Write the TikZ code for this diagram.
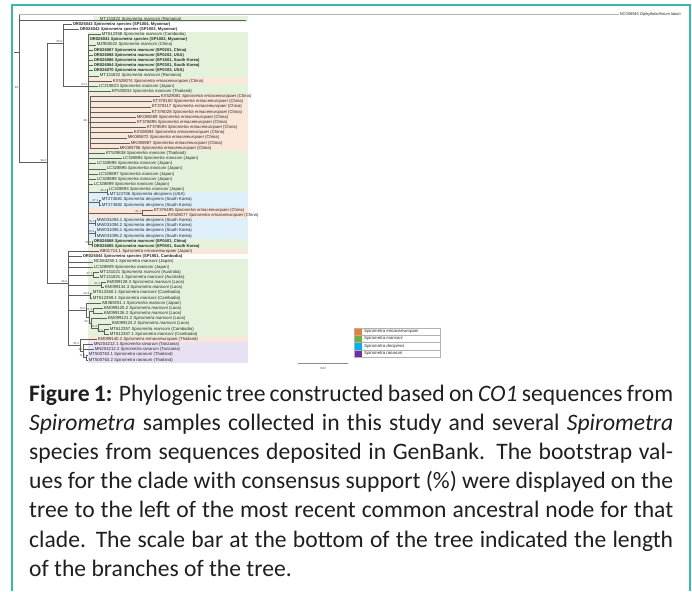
\documentclass[tikz,border=0pt]{standalone}
\usepackage{fontspec}
\setmainfont{Carlito}
\newfontfamily\treefont{Liberation Sans}
\definecolor{framec}{RGB}{60,185,165}
\definecolor{gband}{RGB}{228,242,220}
\definecolor{pband}{RGB}{251,230,218}
\definecolor{bband}{RGB}{222,239,250}
\definecolor{vband}{RGB}{232,225,243}
\definecolor{lorange}{RGB}{237,125,49}
\definecolor{lgreen}{RGB}{112,173,71}
\definecolor{lblue}{RGB}{0,176,240}
\definecolor{lpurple}{RGB}{112,48,160}
\definecolor{branchc}{RGB}{95,95,95}
\tikzset{
 leaf/.style={anchor=west, inner xsep=0.6pt, inner ysep=0pt, font=\treefont\fontsize{4.3}{5}\selectfont, text=black!85},
 leafb/.style={leaf, font=\treefont\bfseries\fontsize{4.1}{5}\selectfont},
 bs/.style={anchor=south east, inner sep=0.3pt, xshift=-0.4pt, font=\treefont\fontsize{2.8}{3}\selectfont, text=black!75},
 br/.style={draw=branchc, line width=0.45pt},
 captext/.style={anchor=base west, inner sep=0pt, font=\fontsize{23.6}{28}\selectfont, text=black!88},
 lgt/.style={anchor=west, inner sep=0pt, font=\treefont\itshape\fontsize{4.3}{5}\selectfont, text=black!85},
}
\newcommand\lf[6]{\node[leaf] (l#1) at (#3-1,#1) {#4 \textit{#5} (#6)};\draw[br] (#2,#1) -- (l#1.west);}
\newcommand\lfb[6]{\node[leafb] (l#1) at (#3-1,#1) {#4 \textit{#5} (#6)};\draw[br] (#2,#1) -- (l#1.west);}
\begin{document}
\begin{tikzpicture}[x=1pt,y=-1pt]
\useasboundingbox (0,0) rectangle (692,591);
\fill[white] (0,0) rectangle (692,591);
% frame
\draw[framec, line width=1.3pt] (12,591) -- (12,5) -- (690,5) -- (690,591);
% ---------- tree (rows as y) ----------
\begin{scope}[y=-5.167pt, yshift=-13.833pt]
 % bands
 \fill[gband] (93,0.5) rectangle (248,1.5);
 \fill[gband] (88,3.5) rectangle (248,12.5);
 \fill[pband] (88,12.5) rectangle (248,13.5);
 \fill[gband] (88,13.5) rectangle (248,15.5);
 \fill[pband] (88,15.5) rectangle (248,26.5);
 \fill[gband] (88,26.5) rectangle (248,34.5);
 \fill[bband] (88,34.5) rectangle (248,37.5);
 \fill[pband] (88,37.5) rectangle (248,39.5);
 \fill[bband] (88,39.5) rectangle (248,43.5);
 \fill[gband] (88,43.5) rectangle (248,45.5);
 \fill[pband] (88,45.5) rectangle (248,46.5);
 \fill[gband] (88,47.5) rectangle (248,62.5);
 \fill[pband] (88,62.5) rectangle (248,63.5);
 \fill[vband] (88,63.5) rectangle (248,67.5);
 % clade A
 \draw[br] (63,2) -- (63,14);
 \coordinate (n1) at (88,14);
 \draw[br] (63,14) -- (n1);
 \node[bs] (b2) at (n1) {54.3};
 \draw[br] (88,4) -- (88,44.5);
 \node[leaf] (l1) at (99,1) {MT131822 \textit{Spirometra mansoni} (Romania)};
 \lfb{2}{63}{73}{OR026043}{Spirometra species}{SP1004, Myanmar}
 \lfb{3}{63}{80}{OR026042}{Spirometra species}{SP1003, Myanmar}
 \lf{4}{88}{102}{MT612358}{Spirometra mansoni}{Cambodia}
 \lfb{5}{88}{90}{OR026041}{Spirometra species}{SP1002, Myanmar}
 \lf{6}{88}{97}{MZ955022}{Spirometra mansoni}{China}
 \lfb{7}{88}{94}{OR026067}{Spirometra mansoni}{SP0201, China}
 \lfb{8}{88}{94}{OR026068}{Spirometra mansoni}{SP0202, USA}
 \lfb{9}{88}{94}{OR026066}{Spirometra mansoni}{SP1801, South Korea}
 \lfb{10}{88}{94}{OR026064}{Spirometra mansoni}{SP0301, South Korea}
 \lfb{11}{88}{94}{OR026070}{Spirometra mansoni}{SP0303, USA}
 \lf{12}{88}{100}{MT131822}{Spirometra mansoni}{Romania}
 \lf{13}{88}{113}{KX528074}{Spirometra erinaceieuropaei}{China}
 \lf{14}{88}{99}{LC219823}{Spirometra mansoni}{Japan}
 \lf{15}{88}{112}{KF530834}{Spirometra mansoni}{Thailand}
 \coordinate (n98) at (90,21);
 \draw[br] (88,21) -- (n98);
 \draw[br] (90,16) -- (90,26);
 \node[bs] (b3) at (n98) {98.7};
 \lf{16}{90}{161}{KX528081}{Spirometra erinaceieuropaei}{China}
 \lf{17}{90}{153}{KT378150}{Spirometra erinaceieuropaei}{China}
 \lf{18}{90}{152}{KT378117}{Spirometra erinaceieuropaei}{China}
 \lf{19}{90}{152}{KT376028}{Spirometra erinaceieuropaei}{China}
 \lf{20}{90}{137}{MK085559}{Spirometra erinaceieuropaei}{China}
 \lf{21}{90}{137}{KT376895}{Spirometra erinaceieuropaei}{China}
 \lf{22}{90}{147}{KT378593}{Spirometra erinaceieuropaei}{China}
 \lf{23}{90}{134}{KX528084}{Spirometra erinaceieuropaei}{China}
 \lf{24}{90}{128}{MK085872}{Spirometra erinaceieuropaei}{China}
 \lf{25}{90}{131}{MK085967}{Spirometra erinaceieuropaei}{China}
 \lf{26}{90}{120}{MK085706}{Spirometra erinaceieuropaei}{China}
 \lf{27}{88}{106}{KT529838}{Spirometra mansoni}{Thailand}
 \lf{28}{88}{123}{LC328894}{Spirometra mansoni}{Japan}
 \lf{29}{88}{97}{LC328896}{Spirometra mansoni}{Japan}
 \lf{30}{88}{107}{LC328895}{Spirometra mansoni}{Japan}
 \lf{31}{88}{99}{LC328897}{Spirometra mansoni}{Japan}
 \lf{32}{88}{97}{LC328898}{Spirometra mansoni}{Japan}
 \lf{33}{88}{94}{LC328899}{Spirometra mansoni}{Japan}
 \coordinate (n34) at (107,34.5); \draw[br] (88,34.5) -- (n34); \draw[br] (107,34) -- (107,35);
 \node[bs] (b4) at (n34) {86.4};
 \lf{34}{107}{109}{LC328893}{Spirometra mansoni}{Japan}
 \lf{35}{107}{110}{MT122706}{Spirometra decipiens}{USA}
 \coordinate (n36) at (99,36.5); \draw[br] (88,36.5) -- (n36); \draw[br] (99,36) -- (99,37);
 \node[bs] (b5) at (n36) {87.1};
 \lf{36}{99}{102}{MT274581}{Spirometra decipiens}{South Korea}
 \lf{37}{99}{102}{MT274582}{Spirometra decipiens}{South Korea}
 \coordinate (n38) at (142,38.5); \draw[br] (88,38.5) -- (n38); \draw[br] (142,38) -- (142,39);
 \node[bs] (b6) at (n38) {81.7};
 \lf{38}{142}{154}{KT376495}{Spirometra erinaceieuropaei}{China}
 \lf{39}{142}{168}{KX528077}{Spirometra erinaceieuropaei}{China}
 \coordinate (n40) at (95,40.5); \draw[br] (88,40.5) -- (n40); \draw[br] (95,40) -- (95,41);
 \node[bs] (b7) at (n40) {76.1};
 \lf{40}{95}{97}{MW031094.1}{Spirometra decipiens}{South Korea}
 \lf{41}{95}{97}{MW031094.2}{Spirometra decipiens}{South Korea}
 \coordinate (n42) at (95,42.5); \draw[br] (88,42.5) -- (n42); \draw[br] (95,42) -- (95,43);
 \node[bs] (b8) at (n42) {73.3};
 \lf{42}{95}{97}{MW031095.1}{Spirometra decipiens}{South Korea}
 \lf{43}{95}{97}{MW031095.2}{Spirometra decipiens}{South Korea}
 \coordinate (n44) at (92,44.5); \draw[br] (88,44.5) -- (n44); \draw[br] (92,44) -- (92,45);
 \node[bs] (b9) at (n44) {61.5};
 \lfb{44}{92}{94}{OR026068}{Spirometra mansoni}{SP0401, China}
 \lfb{45}{92}{94}{OR026065}{Spirometra mansoni}{SP0501, South Korea}
 % clade B
 \draw[br] (68,46) -- (68,64.125);
 \lf{46}{68}{100}{AB01724.1}{Spirometra erinaceieuropaei}{Japan}
 \lfb{47}{68}{83}{OR026044}{Spirometra species}{SP1901, Cambodia}
 \lf{48}{68}{94}{NC063250.1}{Spirometra mansoni}{Japan}
 \lf{49}{68}{94}{LC328909}{Spirometra mansoni}{Japan}
 \coordinate (n50) at (93,50.5); \draw[br] (68,50.5) -- (n50); \draw[br] (93,50) -- (93,51);
 \node[bs] (b11) at (n50) {97.7};
 \lf{50}{93}{100}{MT131021}{Spirometra mansoni}{Australia}
 \lf{51}{93}{100}{MT131821.1}{Spirometra mansoni}{Australia}
 \coordinate (n52) at (101,52.5); \draw[br] (68,52.5) -- (n52); \draw[br] (101,52) -- (101,53);
 \node[bs] (b12) at (n52) {91.2};
 \lf{52}{101}{107}{KM099128.3}{Spirometra mansoni}{Laos}
 \lf{53}{101}{105}{KM099134.3}{Spirometra mansoni}{Laos}
 \coordinate (n54) at (90,54.5); \draw[br] (68,54.5) -- (n54); \draw[br] (90,54) -- (90,55);
 \node[bs] (b13) at (n54) {90.4};
 \lf{54}{90}{93}{MT612360.1}{Spirometra mansoni}{Cambodia}
 \lf{55}{90}{93}{MT612359.1}{Spirometra mansoni}{Cambodia}
 \coordinate (na) at (86,57.34); \draw[br] (68,57.34) -- (na); \draw[br] (86,56) -- (86,58.69);
 \node[bs] (b14) at (na) {79.0};
 \lf{56}{86}{102}{AB369251.1}{Spirometra mansoni}{Japan}
 \coordinate (nb) at (89,58.69); \draw[br] (86,58.69) -- (nb); \draw[br] (89,57.5) -- (89,59.875);
 \coordinate (nc) at (93,57.5); \draw[br] (89,57.5) -- (nc); \draw[br] (93,57) -- (93,58);
 \node[bs] (b15) at (nc) {51.1};
 \lf{57}{93}{104}{KM099125.2}{Spirometra mansoni}{Laos}
 \lf{58}{93}{104}{KM099126.2}{Spirometra mansoni}{Laos}
 \coordinate (nd) at (91,59.875); \draw[br] (89,59.875) -- (nd); \draw[br] (91,59) -- (91,60.75);
 \node[bs] (b16) at (nd) {60.1};
 \lf{59}{91}{108}{KM099121.2}{Spirometra mansoni}{Laos}
 \coordinate (nf) at (98,60.75); \draw[br] (91,60.75) -- (nf); \draw[br] (98,60) -- (98,61.5);
 \node[bs] (b17) at (nf) {81.6};
 \lf{60}{98}{112}{KM099124.2}{Spirometra mansoni}{Laos}
 \coordinate (ne) at (104,61.5); \draw[br] (98,61.5) -- (ne); \draw[br] (104,61) -- (104,62);
 \node[bs] (b18) at (ne) {97.1};
 \lf{61}{104}{110}{MT612357}{Spirometra mansoni}{Cambodia}
 \lf{62}{104}{110}{MT612357.1}{Spirometra mansoni}{Cambodia}
 \coordinate (np) at (80,64.125); \draw[br] (68,64.125) -- (np); \draw[br] (80,63) -- (80,65.25);
 \node[bs] (b19) at (np) {85.1};
 \lf{63}{80}{98}{KM099140.2}{Spirometra erinaceieuropaei}{Thailand}
 \coordinate (nq) at (83,65.25); \draw[br] (80,65.25) -- (nq); \draw[br] (83,64) -- (83,66.5);
 \node[bs] (b20) at (nq) {95};
 \lf{64}{83}{94}{MN204212.1}{Spirometra ranarum}{Tanzania}
 \lf{65}{83}{95}{MN204212.2}{Spirometra ranarum}{Tanzania}
 \coordinate (nm) at (86,66.5); \draw[br] (83,66.5) -- (nm); \draw[br] (86,66) -- (86,67);
 \node[bs] (b21) at (nm) {71.1};
 \lf{66}{86}{89}{MT500763.1}{Spirometra ranarum}{Thailand}
 \lf{67}{86}{89}{MT500763.2}{Spirometra ranarum}{Thailand}
\end{scope}
% ---------- root and backbone (pixel coords) ----------
\coordinate (rstub) at (14,52);
\coordinate (rtop) at (19,14);
\coordinate (rbot) at (19,162);
\draw[br] (rstub) -- (19,52);
\draw[br] (rtop) -- (rbot);
\node[leaf, font=\treefont\fontsize{4}{5}\selectfont] (og) at (619,14) {NC008945 \textit{Diphyllobothrium latum}};
\draw[draw=black!30, line width=0.8pt] (rtop) -- (og.west);
\coordinate (r2a) at (19,20);
\coordinate (r2b) at (246,20);
\draw[br] (r2a) -- (r2b);
\node[bs, anchor=east] (b0) at (19,88) {98};
\coordinate (ing) at (47,162);
\draw[br] (rbot) -- (ing);
\node[bs] (b1) at (ing) {99.4};
\coordinate (iA) at (47,43);
\coordinate (iB) at (47,283);
\draw[br] (iA) -- (iB);
\coordinate (nA) at (63,43);
\draw[br] (iA) -- (nA);
\node[bs] (b1a) at (nA) {66.6};
\coordinate (nB) at (68,283);
\draw[br] (iB) -- (nB);
\node[bs] (b10) at (nB) {99.2};
% scale bar
\coordinate (sb1) at (298,363);
\coordinate (sb2) at (348,363);
\draw[draw=black!45, line width=0.5pt] (sb1) -- (sb2);
\node[inner sep=0, font=\treefont\fontsize{3}{4}\selectfont, text=black!70] (sbl) at (323,368) {0.02};
% legend
\foreach \k/\c/\t in {0/lorange/erinaceieuropaei,1/lgreen/mansoni,2/lblue/decipiens,3/lpurple/ranarum}{
  \fill[\c] (354,328+\k*7.25) rectangle (362,328+\k*7.25+7.25);
  \draw[black!30, line width=0.3pt] (354,328+\k*7.25) rectangle (440,328+\k*7.25+7.25);
  \node[lgt] (lg\k) at (364,328+\k*7.25+3.6) {Spirometra \t};
}
% caption
\node[captext] (c1) at (29,401) {\makebox[644pt][s]{\textbf{Figure 1:} Phylogenic tree constructed based on \textit{CO1} sequences from}};
\node[captext] (c2) at (29,430.2) {\makebox[644pt][s]{\textit{Spirometra} samples collected in this study and several \textit{Spirometra}}};
\node[captext] (c3) at (29,459.4) {\makebox[644pt][s]{species from sequences deposited in GenBank. The bootstrap val-}};
\node[captext] (c4) at (29,488.6) {\makebox[644pt][s]{ues for the clade with consensus support (\%) were displayed on the}};
\node[captext] (c5) at (29,517.8) {\makebox[644pt][s]{tree to the left of the most recent common ancestral node for that}};
\node[captext] (c6) at (29,547) {\makebox[644pt][s]{clade. The scale bar at the bottom of the tree indicated the length}};
\node[captext] (c7) at (29,576.2) {of the branches of the tree.};
\end{tikzpicture}
\end{document}
